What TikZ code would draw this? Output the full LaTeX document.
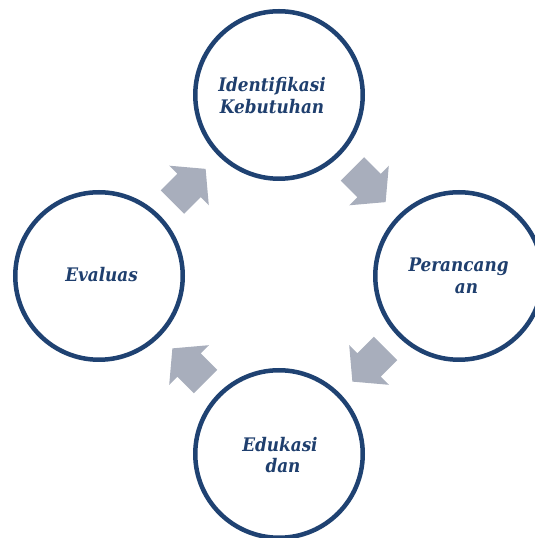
\documentclass[tikz,border=0pt]{standalone}
\usepackage{fontspec}
\newfontfamily\lblfont{DejaVu Serif Condensed}
\usetikzlibrary{calc}
\definecolor{ringblue}{RGB}{31,66,114}
\definecolor{textblue}{RGB}{31,63,110}
\definecolor{arrowgray}{RGB}{168,174,188}
\tikzset{
  ring/.style={circle, draw=ringblue, fill=white, line width=4.5pt, minimum size=167.5pt, inner sep=0pt},
  lbl/.style={anchor=base, text=textblue, font=\lblfont\bfseries\itshape\fontsize{18.7}{21}\selectfont, inner sep=0pt},
  blockarrow/.pic={\fill[arrowgray] (-23.5,-16.5) -- (0,-16.5) -- (0,-28) -- (23.5,0) -- (0,28) -- (0,16.5) -- (-23.5,16.5) -- cycle;}
}
\begin{document}
\begin{tikzpicture}[x=1pt,y=1pt]
\useasboundingbox (0,0) rectangle (535,538);
\node[ring] (T) at (279,443) {};
\node[ring] (R) at (459,262) {};
\node[ring] (B) at (279,84) {};
\node[ring] (L) at (99,262) {};
\node[lbl] (t1) at (272,446) {Identifikasi};
\node[lbl] (t2) at (272,424.5) {Kebutuhan};
\node[lbl] (r1) at (458.5,266) {Perancang};
\node[lbl] (r2) at (466.5,244.7) {an};
\node[lbl] (b1) at (280,86.3) {Edukasi};
\node[lbl] (b2) at (283,65.3) {dan};
\node[lbl] (l1) at (101.5,256.3) {Evaluas};
\pic[rotate=45] at ($(L)!0.5!(T)$) {blockarrow};
\pic[rotate=-45] at ($(T)!0.5!(R)$) {blockarrow};
\pic[rotate=-135] at ($(R)!0.5!(B)$) {blockarrow};
\pic[rotate=135] at ($(B)!0.5!(L)$) {blockarrow};
\end{tikzpicture}
\end{document}
